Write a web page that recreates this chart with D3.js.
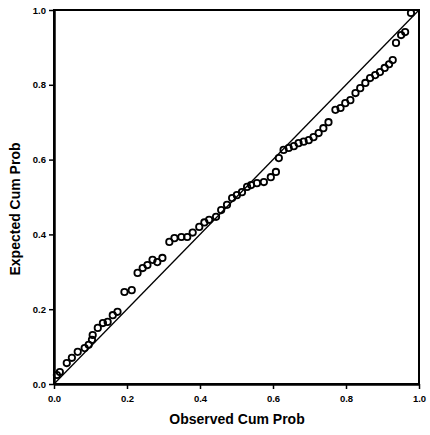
<!DOCTYPE html>
<html>
<head>
<meta charset="utf-8">
<script src="https://cdn.jsdelivr.net/npm/d3@7/dist/d3.min.js"></script>
<style>
  html, body { margin: 0; padding: 0; background: #fff; }
  svg { display: block; }
</style>
</head>
<body>
<svg id="chart" width="430" height="435"></svg>
<script>
const observed = [0.008,0.016,0.035,0.049,0.065,0.084,0.095,0.104,0.106,0.120,0.134,0.147,0.161,0.174,0.193,0.213,0.229,0.243,0.256,0.270,0.283,0.297,0.316,0.330,0.349,0.365,0.380,0.398,0.412,0.425,0.444,0.458,0.474,0.488,0.501,0.515,0.529,0.540,0.556,0.575,0.594,0.608,0.616,0.629,0.643,0.657,0.670,0.684,0.698,0.711,0.725,0.738,0.752,0.771,0.785,0.798,0.812,0.826,0.839,0.853,0.866,0.880,0.893,0.906,0.918,0.928,0.937,0.951,0.962,0.978];
const expected = [0.024,0.032,0.056,0.070,0.086,0.096,0.105,0.118,0.131,0.150,0.163,0.166,0.184,0.193,0.246,0.251,0.297,0.310,0.318,0.332,0.326,0.337,0.380,0.390,0.393,0.393,0.405,0.420,0.432,0.439,0.447,0.465,0.479,0.497,0.505,0.513,0.527,0.532,0.537,0.540,0.553,0.567,0.604,0.626,0.631,0.636,0.644,0.648,0.652,0.660,0.671,0.684,0.700,0.733,0.738,0.751,0.759,0.778,0.791,0.805,0.818,0.826,0.834,0.845,0.855,0.866,0.912,0.933,0.941,0.992];
const tickValues = [0.0, 0.2, 0.4, 0.6, 0.8, 1.0];
const refLine = [[0, 0], [1, 1]];
const xTitle = "Observed Cum Prob";
const yTitle = "Expected Cum Prob";

(function () {
const svg = d3.select("#chart");
const mL = 54, mR = 419, mT = 10, mB = 384;
const x = d3.scaleLinear().domain([0, 1]).range([mL, mR]);
const y = d3.scaleLinear().domain([0, 1]).range([mB, mT]);
const font = "Arial, 'Liberation Sans', sans-serif";

// frame
svg.append("rect")
  .attr("x", mL).attr("y", mT)
  .attr("width", mR - mL).attr("height", mB - mT)
  .attr("fill", "none").attr("stroke", "#000").attr("stroke-width", 2);

const fmt = d3.format(".1f");
const xAxis = svg.append("g").attr("transform", `translate(0,${mB})`)
  .call(d3.axisBottom(x).tickValues(tickValues).tickFormat(fmt).tickSize(5).tickSizeOuter(0));
const yAxis = svg.append("g").attr("transform", `translate(${mL},0)`)
  .call(d3.axisLeft(y).tickValues(tickValues).tickFormat(fmt).tickSize(5).tickSizeOuter(0));
[xAxis, yAxis].forEach(g => {
  g.select(".domain").attr("stroke", "#000").attr("stroke-width", 2.5);
  g.selectAll(".tick line").attr("stroke", "#000").attr("stroke-width", 1.5);
  g.selectAll(".tick text")
    .attr("fill", "#000")
    .style("font-family", font)
    .style("font-size", "9.5px")
    .style("font-weight", "bold");
});
xAxis.selectAll(".tick text").attr("dy", "1.0em");

// reference line
svg.append("line")
  .attr("x1", x(refLine[0][0])).attr("y1", y(refLine[0][1]))
  .attr("x2", x(refLine[1][0])).attr("y2", y(refLine[1][1]))
  .attr("stroke", "#000").attr("stroke-width", 1.3);

// points
svg.append("g").selectAll("circle")
  .data(observed.map((o, i) => [o, expected[i]]))
  .join("circle")
  .attr("cx", d => x(d[0]))
  .attr("cy", d => y(d[1]))
  .attr("r", 3.2)
  .attr("fill", "none")
  .attr("stroke", "#000")
  .attr("stroke-width", 1.8);

// titles
svg.append("text")
  .attr("x", 237).attr("y", 424)
  .attr("text-anchor", "middle")
  .style("font-family", font)
  .style("font-size", "14px").style("font-weight", "bold")
  .text(xTitle);
svg.append("text")
  .attr("transform", `translate(20,${(mT + mB) / 2 + 12}) rotate(-90)`)
  .attr("text-anchor", "middle")
  .style("font-family", font)
  .style("font-size", "14px").style("font-weight", "bold")
  .text(yTitle);
})();
</script>
</body>
</html>
